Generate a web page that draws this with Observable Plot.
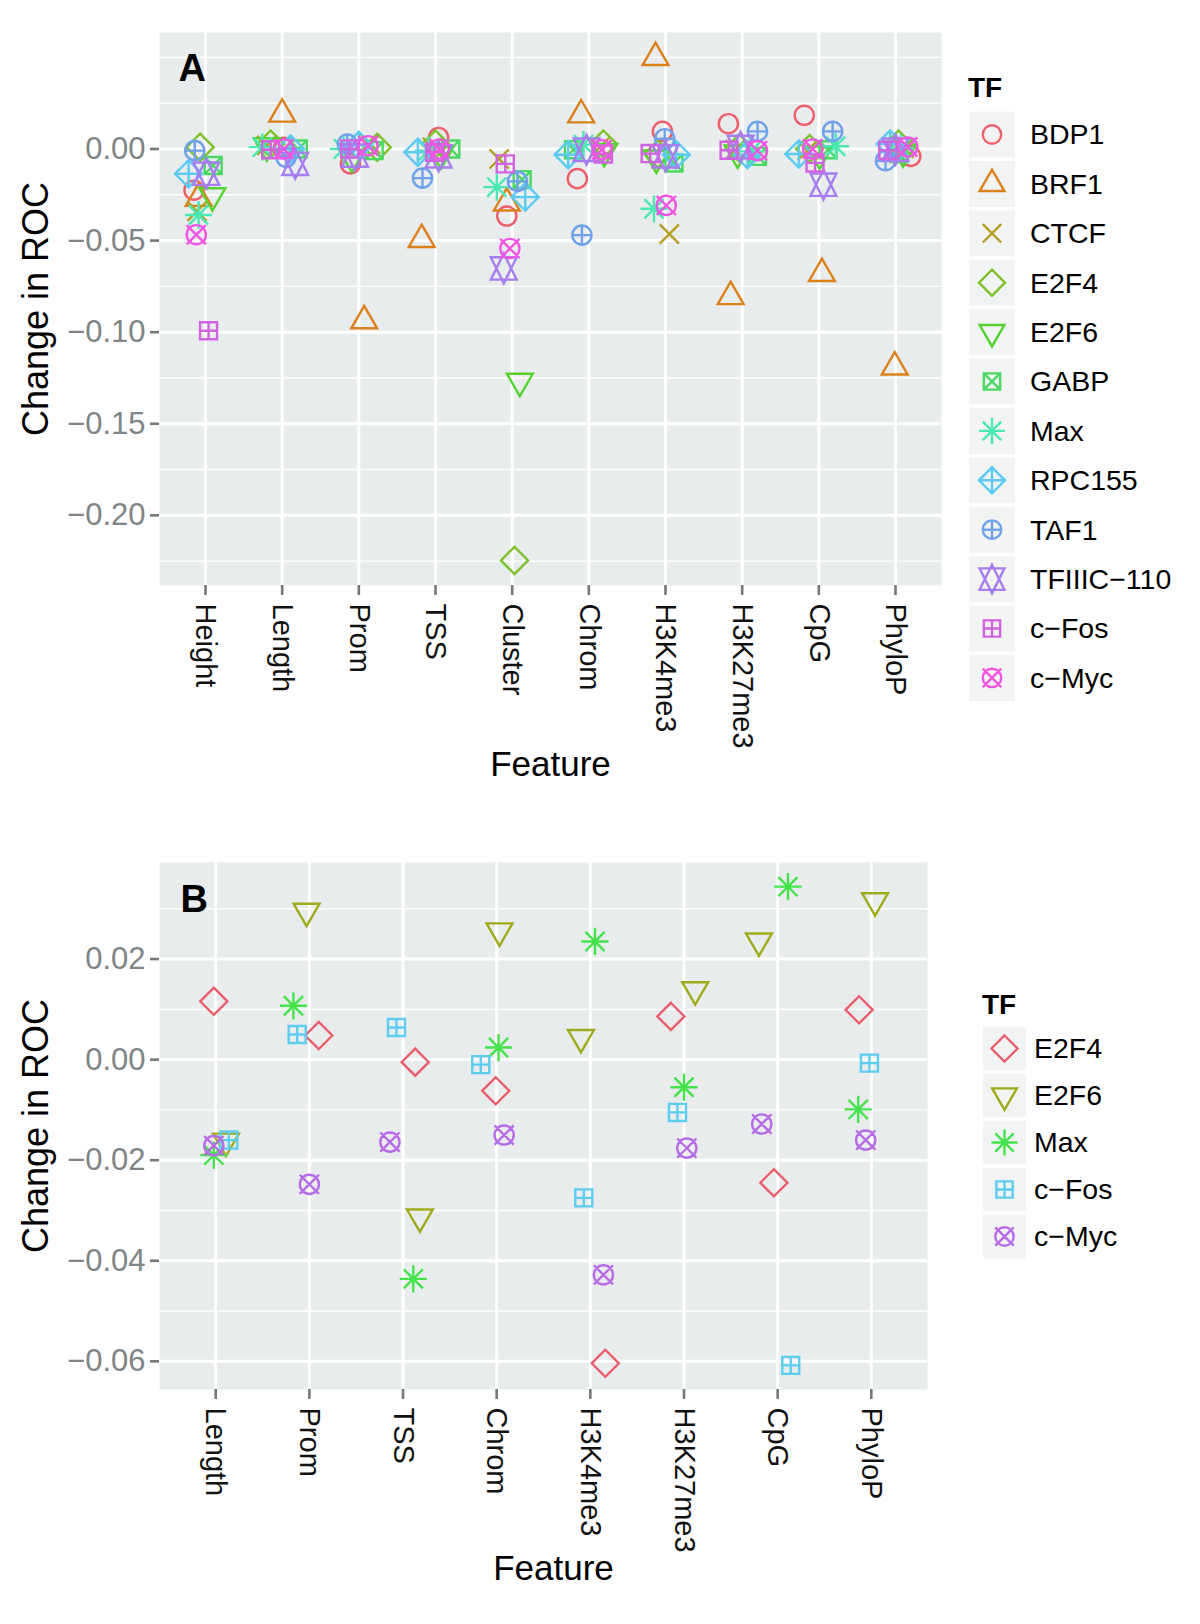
<!DOCTYPE html>
<html>
<head>
<meta charset="utf-8">
<script src="https://cdn.jsdelivr.net/npm/d3@7"></script>
<script src="https://cdn.jsdelivr.net/npm/@observablehq/plot@0.6"></script>
<style>
  body { margin: 0; background: #ffffff; }
  #wrap { position: relative; width: 1200px; height: 1624px; overflow: hidden; font-family: "Liberation Sans", Arial, Helvetica, sans-serif; }
  #wrap > svg, #wrap > div { position: absolute; }
</style>
</head>
<body>
<div id="wrap"></div>
<script>
// ---------------- DATA ----------------
// Panel A
const featuresA = ["Height", "Length", "Prom", "TSS", "Cluster", "Chrom", "H3K4me3", "H3K27me3", "CpG", "PhyloP"];
const tfsA = ["BDP1", "BRF1", "CTCF", "E2F4", "E2F6", "GABP", "Max", "RPC155", "TAF1", "TFIIIC\u2212110", "c\u2212Fos", "c\u2212Myc"];
// change in ROC, one row per TF (order of tfsA), one column per feature (order of featuresA)
const changeA = [
  [-0.0225,  0.0009, -0.0081,  0.0063, -0.0366, -0.0162,  0.0096,  0.0138,  0.0184, -0.0040], // BDP1
  [-0.0270,  0.0190, -0.0938, -0.0494, -0.0295,  0.0186,  0.0499, -0.0806, -0.0680, -0.1190], // BRF1
  [-0.0340,  0.0020,  0.0027,  0.0009, -0.0054,  0.0009, -0.0464, -0.0004, -0.0009,  0.0005], // CTCF
  [ 0.0010,  0.0027,  0.0009,  0.0027, -0.2246,  0.0027, -0.0027,  0.0005,  0.0002,  0.0027], // E2F4
  [-0.0255,  0.0018, -0.0045, -0.0027, -0.1268, -0.0013, -0.0049, -0.0022, -0.0027, -0.0016], // E2F6
  [-0.0090,  0.0000, -0.0009,  0.0000, -0.0167, -0.0004, -0.0076, -0.0040, -0.0004, -0.0025], // GABP
  [-0.0360,  0.0010,  0.0000, -0.0009, -0.0208,  0.0024, -0.0326, -0.0013,  0.0015,  0.0005], // Max
  [-0.0135,  0.0000,  0.0020, -0.0018, -0.0262, -0.0031, -0.0031, -0.0031, -0.0027,  0.0027], // RPC155
  [-0.0009, -0.0045,  0.0027, -0.0159, -0.0177, -0.0470,  0.0056,  0.0096,  0.0096, -0.0064], // TAF1
  [-0.0135, -0.0081, -0.0036, -0.0040, -0.0652, -0.0004, -0.0040,  0.0011, -0.0195, -0.0004], // TFIIIC-110
  [-0.0992, -0.0004,  0.0000, -0.0018, -0.0081, -0.0027, -0.0025, -0.0007, -0.0076, -0.0007], // c-Fos
  [-0.0468,  0.0000,  0.0018,  0.0000, -0.0543, -0.0004, -0.0308, -0.0009,  0.0000,  0.0011]  // c-Myc
];
// horizontal jitter of each point (in category widths)
const jitterA = [
  [-0.15,  0.02, -0.11,  0.04, -0.07, -0.15, -0.04, -0.18, -0.19,  0.20],
  [-0.09,  0.00,  0.07, -0.18, -0.07, -0.10, -0.13, -0.15,  0.04, -0.01],
  [-0.11, -0.20,  0.15, -0.04, -0.17,  0.14,  0.05, -0.09, -0.15,  0.11],
  [-0.07, -0.15,  0.24,  0.00,  0.03,  0.19, -0.10, -0.04, -0.12,  0.04],
  [ 0.09, -0.20, -0.09,  0.07,  0.10,  0.20, -0.12, -0.06,  0.01,  0.10],
  [ 0.10,  0.21,  0.20,  0.20,  0.13, -0.20,  0.11,  0.20,  0.12,  0.04],
  [-0.09, -0.26, -0.20, -0.09, -0.20, -0.07, -0.15,  0.11,  0.22,  0.07],
  [-0.22,  0.11,  0.00, -0.23,  0.17, -0.27,  0.14,  0.07, -0.26, -0.07],
  [-0.14,  0.05, -0.15, -0.17,  0.07, -0.09, -0.01,  0.20,  0.18, -0.13],
  [ 0.01,  0.17, -0.05,  0.04, -0.11, -0.03,  0.00, -0.02,  0.06,  0.00],
  [ 0.04, -0.15, -0.12, -0.01, -0.09,  0.19, -0.20, -0.17, -0.05, -0.10],
  [-0.12,  0.02,  0.12,  0.05, -0.03,  0.17,  0.01,  0.20, -0.08,  0.16]
];
const ticksA = [0, -0.05, -0.10, -0.15, -0.20];
const minorA = [0.05, 0.025, -0.025, -0.075, -0.125, -0.175, -0.225];

// Panel B
const featuresB = ["Length", "Prom", "TSS", "Chrom", "H3K4me3", "H3K27me3", "CpG", "PhyloP"];
const tfsB = ["E2F4", "E2F6", "Max", "c\u2212Fos", "c\u2212Myc"];
const changeB = [
  [ 0.0116,  0.0048, -0.0005, -0.0062, -0.0604,  0.0086, -0.0245,  0.0099], // E2F4
  [-0.0162,  0.0295, -0.0313,  0.0256,  0.0044,  0.0139,  0.0236,  0.0316], // E2F6
  [-0.0190,  0.0107, -0.0436,  0.0024,  0.0235, -0.0055,  0.0344, -0.0099], // Max
  [-0.0160,  0.0050,  0.0064, -0.0010, -0.0275, -0.0105, -0.0608, -0.0007], // c-Fos
  [-0.0171, -0.0248, -0.0164, -0.0150, -0.0428, -0.0176, -0.0128, -0.0160]  // c-Myc
];
const jitterB = [
  [-0.02,  0.10,  0.13, -0.01,  0.16, -0.14, -0.04, -0.13],
  [ 0.11, -0.03,  0.18,  0.03, -0.10,  0.12, -0.20,  0.04],
  [-0.02, -0.17,  0.11,  0.02,  0.05,  0.00,  0.11, -0.14],
  [ 0.14, -0.13, -0.07, -0.17, -0.07, -0.07,  0.14, -0.02],
  [-0.02,  0.00, -0.14,  0.08,  0.14,  0.03, -0.17, -0.06]
];
const ticksB = [0.02, 0.00, -0.02, -0.04, -0.06];
const minorB = [0.03, 0.01, -0.01, -0.03, -0.05];

// ---------------- STYLE ----------------
const FONT = '"Liberation Sans", Arial, Helvetica, sans-serif';
const PANEL = "#E9ECEC";
const KEYBG = "#F2F3F3";
const TICKC = "#737878";
const colorsA = ["#EC5F6B", "#DB811C", "#B39F25", "#7DC12E", "#55D22F", "#4BD862",
                 "#4CE8B4", "#5CCBF2", "#6FA2EA", "#A67EEF", "#D064E0", "#F056E3"];
const colorsB = ["#EA5F6D", "#9FAA1A", "#45E34B", "#5CCDF0", "#B66CE6"];

// ggplot / R point shapes as custom symbol types
const rad = s => Math.sqrt(s / Math.PI);
function circ(c, r) { c.moveTo(r, 0); c.arc(0, 0, r, 0, 2 * Math.PI); }
function line(c, x1, y1, x2, y2) { c.moveTo(x1, y1); c.lineTo(x2, y2); }
function poly(c, pts) { c.moveTo(pts[0][0], pts[0][1]); for (let i = 1; i < pts.length; i++) c.lineTo(pts[i][0], pts[i][1]); c.closePath(); }
const S = {
  circle:   { draw(c, s) { circ(c, rad(s)); } },
  triUp:    { draw(c, s) { const r = rad(s); poly(c, [[0, -1.555 * r], [1.347 * r, 0.778 * r], [-1.347 * r, 0.778 * r]]); } },
  cross:    { draw(c, s) { const r = rad(s); line(c, -r, -r, r, r); line(c, -r, r, r, -r); } },
  diamond:  { draw(c, s) { const d = Math.SQRT2 * rad(s); poly(c, [[0, -d], [d, 0], [0, d], [-d, 0]]); } },
  triDown:  { draw(c, s) { const r = rad(s); poly(c, [[0, 1.555 * r], [1.347 * r, -0.778 * r], [-1.347 * r, -0.778 * r]]); } },
  squareX:  { draw(c, s) { const h = 0.886 * rad(s); poly(c, [[-h, -h], [h, -h], [h, h], [-h, h]]); line(c, -h, -h, h, h); line(c, -h, h, h, -h); } },
  asterisk: { draw(c, s) { const r = rad(s), p = Math.SQRT2 * r; line(c, -r, -r, r, r); line(c, -r, r, r, -r); line(c, -p, 0, p, 0); line(c, 0, -p, 0, p); } },
  diamondPlus: { draw(c, s) { const d = Math.SQRT2 * rad(s); poly(c, [[0, -d], [d, 0], [0, d], [-d, 0]]); line(c, -d, 0, d, 0); line(c, 0, -d, 0, d); } },
  circlePlus:  { draw(c, s) { const r = rad(s); circ(c, r); line(c, -r, 0, r, 0); line(c, 0, -r, 0, r); } },
  star:     { draw(c, s) { const r0 = rad(s), r = 1.555 * r0, yc = 0.5 * (0.778 * r0 + r), xc = 1.347 * r0;
                           poly(c, [[0, -r], [xc, yc], [-xc, yc]]); poly(c, [[0, r], [xc, -yc], [-xc, -yc]]); } },
  squarePlus: { draw(c, s) { const h = 0.886 * rad(s); poly(c, [[-h, -h], [h, -h], [h, h], [-h, h]]); line(c, -h, 0, h, 0); line(c, 0, -h, 0, h); } },
  circleX:  { draw(c, s) { const r = rad(s); circ(c, r); line(c, -r, -r, r, r); line(c, -r, r, r, -r); } }
};
const shapesA = [S.circle, S.triUp, S.cross, S.diamond, S.triDown, S.squareX, S.asterisk, S.diamondPlus, S.circlePlus, S.star, S.squarePlus, S.circleX];
const shapesB = [S.diamond, S.triDown, S.asterisk, S.squarePlus, S.circleX];

// ---------------- BUILD ----------------
function tidy(features, tfs, values, jitter) {
  const rows = [];
  tfs.forEach((tf, t) => features.forEach((f, i) =>
    rows.push({ tf, t, feature: f, fi: i, value: values[t][i], jit: jitter[t][i] })));
  return rows;
}
const fmt = v => (Math.abs(v) < 1e-9 ? "0.00" : v.toFixed(2).replace("-", "\u2212"));

function panel({ features, tfs, values, jitter, ticks, minor, colors, shapes, yDomain, width, height, mt, mr, mb, ml, letter, letterDx, letterDy, featDx, featDy }) {
  const rows = tidy(features, tfs, values, jitter);
  const dots = tfs.map((tf, t) => Plot.dot(rows.filter(d => d.t === t), {
    x: d => d.fi + d.jit, y: "value", symbol: shapes[t], r: 9.6,
    stroke: colors[t], strokeWidth: 2.4, fill: "none"
  }));
  return Plot.plot({
    width, height, marginTop: mt, marginRight: mr, marginBottom: mb, marginLeft: ml,
    style: { fontFamily: FONT, background: "transparent", overflow: "visible" },
    x: { domain: [-0.6, features.length - 0.4] },
    y: { domain: yDomain },
    marks: [
      Plot.frame({ fill: PANEL, stroke: null }),
      Plot.ruleY(minor, { stroke: "white", strokeWidth: 1.4 }),
      Plot.ruleY(ticks, { stroke: "white", strokeWidth: 3 }),
      Plot.ruleX(d3.range(features.length), { stroke: "white", strokeWidth: 3 }),
      Plot.axisY({ ticks, tickFormat: fmt, tickSize: 9, tickPadding: 5, fontSize: 31,
                   stroke: TICKC, strokeWidth: 2.6, fill: "#7F8484", label: null }),
      Plot.axisX({ ticks: d3.range(features.length), tickFormat: i => features[i], tickRotate: 90,
                   tickSize: 10, tickPadding: 8, fontSize: 29, stroke: TICKC, strokeWidth: 2.6, fill: "#111", label: null }),
      ...dots,
      Plot.text([letter], { text: d => d, frameAnchor: "top-left", dx: letterDx, dy: letterDy,
                             textAnchor: "start", lineAnchor: "middle",
                             fontSize: 38, fontWeight: "bold", fill: "#000" }),
      Plot.text(["Feature"], { text: d => d, frameAnchor: "bottom", dx: featDx, dy: featDy,
                               textAnchor: "middle", lineAnchor: "middle", fontSize: 35, fill: "#000" }),
      Plot.text(["Change in ROC"], { text: d => d, frameAnchor: "left", dx: -(ml - 36), rotate: -90,
                                     textAnchor: "middle", lineAnchor: "middle", fontSize: 36, fill: "#000" })
    ]
  });
}

const wrap = document.getElementById("wrap");

const plotA = panel({
  features: featuresA, tfs: tfsA, values: changeA, jitter: jitterA, ticks: ticksA, minor: minorA,
  colors: colorsA, shapes: shapesA, yDomain: [-0.2383, 0.0636],
  width: 960, height: 800, mt: 32, mr: 19, mb: 215, ml: 159,
  letter: "A", letterDx: 19, letterDy: 36, featDx: 0, featDy: 179
});
plotA.style.left = "0px"; plotA.style.top = "0px";
wrap.appendChild(plotA);

const plotB = panel({
  features: featuresB, tfs: tfsB, values: changeB, jitter: jitterB, ticks: ticksB, minor: minorB,
  colors: colorsB, shapes: shapesB, yDomain: [-0.0656, 0.0392],
  width: 940, height: 790, mt: 42, mr: 13, mb: 221, ml: 159,
  letter: "B", letterDx: 21, letterDy: 37, featDx: 10, featDy: 179
});
plotB.style.left = "0px"; plotB.style.top = "820px";
wrap.appendChild(plotB);

// ---------------- LEGENDS ----------------
function legend({ tfs, colors, shapes, titleX, titleY, keyX, keyW, firstY, step, textX }) {
  const svg = d3.create("svg").attr("width", 1200).attr("height", 1624)
    .style("left", "0px").style("top", "0px").style("pointer-events", "none")
    .style("font-family", FONT);
  svg.append("text").attr("x", titleX).attr("y", titleY).attr("dy", "0.35em")
    .attr("font-size", 28).attr("font-weight", "bold").attr("fill", "#000").text("TF");
  tfs.forEach((tf, i) => {
    const cy = firstY + i * step;
    svg.append("rect").attr("x", keyX).attr("y", cy - (step - 3.5) / 2).attr("width", keyW).attr("height", step - 3.5).attr("fill", KEYBG);
    const p = d3.path();
    shapes[i].draw(p, Math.PI * 9.2 * 9.2);
    svg.append("path").attr("d", p.toString()).attr("transform", `translate(${keyX + keyW / 2},${cy})`)
      .attr("fill", "none").attr("stroke", colors[i]).attr("stroke-width", 2.4);
    svg.append("text").attr("x", textX).attr("y", cy).attr("dy", "0.35em")
      .attr("font-size", 28.5).attr("fill", "#000").text(tf);
  });
  return svg.node();
}
wrap.appendChild(legend({ tfs: tfsA, colors: colorsA, shapes: shapesA, titleX: 968, titleY: 87,
  keyX: 969, keyW: 46, firstY: 134.5, step: 49.4, textX: 1030 }));
wrap.appendChild(legend({ tfs: tfsB, colors: colorsB, shapes: shapesB, titleX: 982, titleY: 1004,
  keyX: 983, keyW: 43, firstY: 1048.5, step: 47, textX: 1034 }));
</script>
</body>
</html>
